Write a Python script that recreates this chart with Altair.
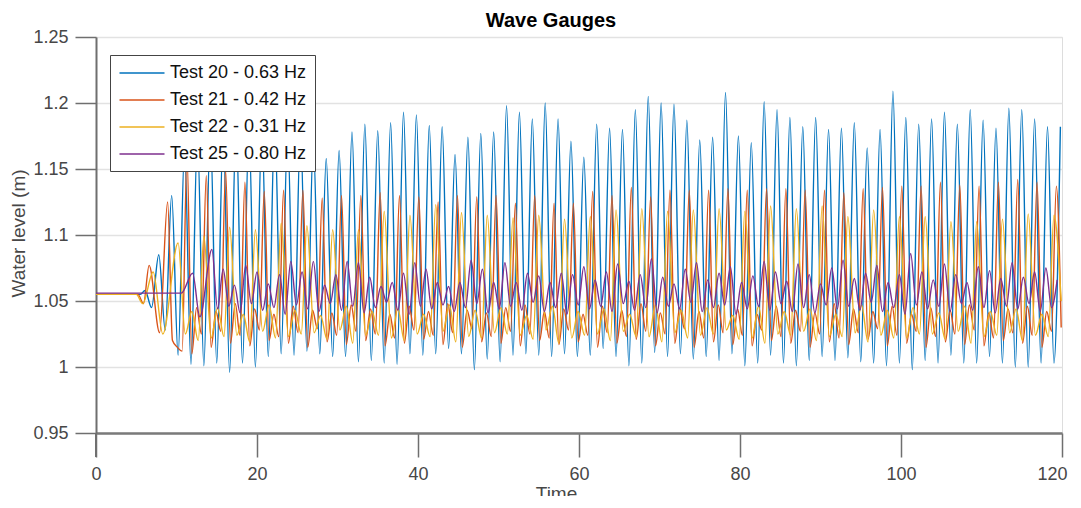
import altair as alt
import pandas as pd

FONT = "Liberation Sans, Arial, sans-serif"

series_names = ["Test 20 - 0.63 Hz", "Test 21 - 0.42 Hz", "Test 22 - 0.31 Hz", "Test 25 - 0.80 Hz"]
series_colors = ["#0072BD", "#D95319", "#EDB120", "#7E2F8E"]
x_ticks = [0, 20, 40, 60, 80, 100, 120]
y_ticks = [0.95, 1.0, 1.05, 1.1, 1.15, 1.2, 1.25]

# ---- Test 20 (blue) ----
blue_lead_t = [0, 5.5, 6.1, 6.9]
blue_lead_v = [1.055, 1.055, 1.058, 1.045]
blue_peak_t = [7.8, 9.4, 11.0, 12.6, 14.2, 15.8, 17.4, 19.0, 20.6, 22.2, 23.8, 25.4, 27.0, 28.6, 30.2,
               31.8, 33.4, 35.0, 36.6, 38.2, 39.8, 41.4, 43.0, 44.6, 46.2, 47.8, 49.4, 51.0, 52.6, 54.2,
               55.8, 57.4, 59.0, 60.6, 62.2, 63.8, 65.4, 67.0, 68.6, 70.2, 71.8, 73.4, 75.0, 76.6, 78.2,
               79.8, 81.4, 83.0, 84.6, 86.2, 87.8, 89.4, 91.0, 92.6, 94.2, 95.8, 97.4, 99.0, 100.6, 102.2,
               103.8, 105.4, 107.0, 108.6, 110.2, 111.8, 113.4, 115.0, 116.6, 118.2, 119.8]
blue_peak_v = [1.085, 1.130, 1.165, 1.175, 1.180, 1.178, 1.185, 1.180, 1.182, 1.185,
               1.178, 1.180, 1.171, 1.158, 1.164, 1.178, 1.184, 1.179, 1.185, 1.193,
               1.191, 1.183, 1.182, 1.161, 1.174, 1.177, 1.178, 1.198, 1.193, 1.188,
               1.200, 1.188, 1.171, 1.159, 1.184, 1.181, 1.180, 1.195, 1.205, 1.200,
               1.199, 1.187, 1.172, 1.174, 1.208, 1.175, 1.170, 1.201, 1.195, 1.189,
               1.182, 1.189, 1.180, 1.181, 1.185, 1.166, 1.180, 1.209, 1.189, 1.184,
               1.188, 1.193, 1.184, 1.195, 1.187, 1.181, 1.196, 1.195, 1.188, 1.182,
               1.182]
blue_trough_t = [8.6, 10.2, 11.8, 13.4, 15.0, 16.6, 18.2, 19.8, 21.4, 23.0, 24.6, 26.2, 27.8, 29.4, 31.0,
                 32.6, 34.2, 35.8, 37.4, 39.0, 40.6, 42.2, 43.8, 45.4, 47.0, 48.6, 50.2, 51.8, 53.4, 55.0,
                 56.6, 58.2, 59.8, 61.4, 63.0, 64.6, 66.2, 67.8, 69.4, 71.0, 72.6, 74.2, 75.8, 77.4, 79.0,
                 80.6, 82.2, 83.8, 85.4, 87.0, 88.6, 90.2, 91.8, 93.4, 95.0, 96.6, 98.2, 99.8, 101.4, 103.0,
                 104.6, 106.2, 107.8, 109.4, 111.0, 112.6, 114.2, 115.8, 117.4, 119.0]
blue_trough_v = [1.028, 1.009, 1.002, 1.001, 1.003, 0.996, 1.003, 1.000, 1.008, 1.010,
                 1.009, 1.012, 1.010, 1.008, 1.008, 1.004, 1.005, 1.003, 1.002, 1.010,
                 1.009, 1.010, 1.014, 1.010, 0.998, 1.006, 1.004, 1.009, 1.010, 1.009,
                 1.008, 1.010, 1.008, 1.009, 1.014, 1.008, 1.001, 1.003, 1.011, 1.008,
                 1.010, 1.006, 1.008, 1.005, 1.010, 1.001, 1.003, 1.009, 1.003, 1.001,
                 1.005, 1.008, 1.005, 1.007, 1.004, 1.003, 1.001, 1.003, 0.998, 1.005,
                 1.003, 1.009, 1.003, 1.003, 1.008, 1.003, 1.000, 1.000, 1.003, 1.003]

# ---- Test 21 (orange) ----
orange_lead_t = [0, 5.2, 5.9, 6.6, 7.9]
orange_lead_v = [1.055, 1.055, 1.048, 1.077, 1.026]
orange_peak_t = [8.9, 11.3, 13.7, 16.1, 18.5, 20.9, 23.3, 25.7, 28.1, 30.5, 32.9, 35.3, 37.7, 40.1, 42.5,
                 44.9, 47.3, 49.7, 52.1, 54.5, 56.9, 59.3, 61.7, 64.1, 66.5, 68.9, 71.3, 73.7, 76.1, 78.5,
                 80.9, 83.3, 85.7, 88.1, 90.5, 92.9, 95.3, 97.7, 100.1, 102.5, 104.9, 107.3, 109.7, 112.1,
                 114.5, 116.9, 119.3]
orange_peak_v = [1.125, 1.160, 1.145, 1.149, 1.140, 1.133, 1.134, 1.134, 1.128, 1.130,
                 1.130, 1.132, 1.130, 1.129, 1.125, 1.130, 1.129, 1.130, 1.124, 1.130,
                 1.124, 1.124, 1.133, 1.130, 1.136, 1.129, 1.134, 1.134, 1.134, 1.135,
                 1.134, 1.135, 1.135, 1.134, 1.134, 1.132, 1.135, 1.136, 1.137, 1.137,
                 1.140, 1.138, 1.137, 1.140, 1.142, 1.140, 1.137]
orange_tr1_t = [9.5, 11.9, 14.3, 16.7, 19.1, 21.5, 23.9, 26.3, 28.7, 31.1, 33.5, 35.9, 38.3, 40.7, 43.1,
                45.5, 47.9, 50.3, 52.7, 55.1, 57.5, 59.9, 62.3, 64.7, 67.1, 69.5, 71.9, 74.3, 76.7, 79.1,
                81.5, 83.9, 86.3, 88.7, 91.1, 93.5, 95.9, 98.3, 100.7, 103.1, 105.5, 107.9, 110.3, 112.7,
                115.1, 117.5, 119.9]
orange_tr1_v = [1.020, 1.010, 1.015, 1.018, 1.016, 1.020, 1.018, 1.015, 1.019, 1.017,
                1.020, 1.016, 1.018, 1.021, 1.017, 1.015, 1.019, 1.018, 1.016, 1.020,
                1.017, 1.019, 1.015, 1.018, 1.021, 1.016, 1.018, 1.015, 1.019, 1.017,
                1.016, 1.020, 1.018, 1.015, 1.019, 1.017, 1.021, 1.016, 1.018, 1.015,
                1.019, 1.017, 1.016, 1.020, 1.018, 1.015, 1.030]
orange_hump_t = [10.1, 12.5, 14.9, 17.3, 19.7, 22.1, 24.5, 26.9, 29.3, 31.7, 34.1, 36.5, 38.9, 41.3, 43.7,
                 46.1, 48.5, 50.9, 53.3, 55.7, 58.1, 60.5, 62.9, 65.3, 67.7, 70.1, 72.5, 74.9, 77.3, 79.7,
                 82.1, 84.5, 86.9, 89.3, 91.7, 94.1, 96.5, 98.9, 101.3, 103.7, 106.1, 108.5, 110.9, 113.3,
                 115.7, 118.1]
orange_hump_v = [1.015, 1.045, 1.042, 1.048, 1.044, 1.040, 1.046, 1.043, 1.041, 1.047,
                 1.044, 1.040, 1.046, 1.042, 1.048, 1.043, 1.041, 1.045, 1.047, 1.042,
                 1.044, 1.040, 1.046, 1.043, 1.048, 1.041, 1.045, 1.042, 1.047, 1.044,
                 1.040, 1.046, 1.043, 1.041, 1.048, 1.044, 1.042, 1.046, 1.040, 1.045,
                 1.043, 1.047, 1.041, 1.044, 1.046, 1.042]
orange_tr2_t = [10.7, 13.1, 15.5, 17.9, 20.3, 22.7, 25.1, 27.5, 29.9, 32.3, 34.7, 37.1, 39.5, 41.9, 44.3,
                46.7, 49.1, 51.5, 53.9, 56.3, 58.7, 61.1, 63.5, 65.9, 68.3, 70.7, 73.1, 75.5, 77.9, 80.3,
                82.7, 85.1, 87.5, 89.9, 92.3, 94.7, 97.1, 99.5, 101.9, 104.3, 106.7, 109.1, 111.5, 113.9,
                116.3, 118.7]
orange_tr2_v = [1.012, 1.025, 1.027, 1.024, 1.028, 1.023, 1.026, 1.029, 1.024, 1.027,
                1.025, 1.022, 1.028, 1.024, 1.026, 1.029, 1.023, 1.027, 1.025, 1.022,
                1.028, 1.024, 1.026, 1.023, 1.027, 1.025, 1.029, 1.022, 1.026, 1.024,
                1.028, 1.023, 1.027, 1.025, 1.022, 1.026, 1.029, 1.024, 1.027, 1.023,
                1.025, 1.028, 1.022, 1.026, 1.024, 1.027]

# ---- Test 22 (yellow) ----
yellow_lead_t = [0, 5.0, 5.8, 7.1, 8.3]
yellow_lead_v = [1.055, 1.055, 1.048, 1.072, 1.025]
yellow_peak_t = [10.2, 13.4, 16.6, 19.8, 23.0, 26.2, 29.4, 32.6, 35.8, 39.0, 42.2, 45.4, 48.6, 51.8, 55.0,
                 58.2, 61.4, 64.6, 67.8, 71.0, 74.2, 77.4, 80.6, 83.8, 87.0, 90.2, 93.4, 96.6, 99.8, 103.0,
                 106.2, 109.4, 112.6, 115.8, 119.0]
yellow_peak_v = [1.094, 1.099, 1.106, 1.104, 1.109, 1.107, 1.104, 1.104, 1.118, 1.115,
                 1.123, 1.117, 1.115, 1.113, 1.115, 1.112, 1.114, 1.119, 1.120, 1.118,
                 1.119, 1.120, 1.118, 1.122, 1.120, 1.122, 1.114, 1.119, 1.114, 1.114,
                 1.110, 1.110, 1.112, 1.116, 1.115]
yellow_tr1_t = [11.1, 14.3, 17.5, 20.7, 23.9, 27.1, 30.3, 33.5, 36.7, 39.9, 43.1, 46.3, 49.5, 52.7, 55.9,
                59.1, 62.3, 65.5, 68.7, 71.9, 75.1, 78.3, 81.5, 84.7, 87.9, 91.1, 94.3, 97.5, 100.7, 103.9,
                107.1, 110.3, 113.5, 116.7, 119.9]
yellow_tr1_v = [1.025, 1.022, 1.024, 1.027, 1.023, 1.026, 1.028, 1.024, 1.022, 1.025,
                1.027, 1.023, 1.026, 1.024, 1.028, 1.022, 1.025, 1.027, 1.023, 1.026,
                1.024, 1.028, 1.022, 1.025, 1.027, 1.023, 1.026, 1.024, 1.022, 1.025,
                1.027, 1.023, 1.026, 1.024, 1.050]
yellow_hump_t = [11.9, 15.1, 18.3, 21.5, 24.7, 27.9, 31.1, 34.3, 37.5, 40.7, 43.9, 47.1, 50.3, 53.5, 56.7,
                 59.9, 63.1, 66.3, 69.5, 72.7, 75.9, 79.1, 82.3, 85.5, 88.7, 91.9, 95.1, 98.3, 101.5, 104.7,
                 107.9, 111.1, 114.3, 117.5]
yellow_hump_v = [1.042, 1.045, 1.040, 1.047, 1.043, 1.039, 1.046, 1.042, 1.044, 1.040,
                 1.047, 1.043, 1.045, 1.039, 1.046, 1.042, 1.044, 1.040, 1.047, 1.043,
                 1.045, 1.039, 1.046, 1.042, 1.044, 1.040, 1.047, 1.043, 1.045, 1.041,
                 1.046, 1.042, 1.044, 1.040]
yellow_tr2_t = [12.7, 15.9, 19.1, 22.3, 25.5, 28.7, 31.9, 35.1, 38.3, 41.5, 44.7, 47.9, 51.1, 54.3, 57.5,
                60.7, 63.9, 67.1, 70.3, 73.5, 76.7, 79.9, 83.1, 86.3, 89.5, 92.7, 95.9, 99.1, 102.3, 105.5,
                108.7, 111.9, 115.1, 118.3]
yellow_tr2_v = [1.020, 1.023, 1.019, 1.022, 1.025, 1.021, 1.018, 1.024, 1.020, 1.023,
                1.019, 1.022, 1.025, 1.021, 1.018, 1.024, 1.020, 1.023, 1.019, 1.022,
                1.025, 1.021, 1.018, 1.024, 1.020, 1.023, 1.019, 1.022, 1.025, 1.021,
                1.018, 1.024, 1.020, 1.023]

# ---- Test 25 (purple) ----
purple_lead_t = [0, 10.6, 12.0, 12.9]
purple_lead_v = [1.056, 1.056, 1.071, 1.038]
purple_peak_t = [14.4, 15.8, 17.2, 18.6, 20.0, 21.4, 22.8, 24.2, 25.6, 27.0, 28.4, 29.8, 31.2, 32.6, 34.0,
                 35.4, 36.8, 38.2, 39.6, 41.0, 42.4, 43.8, 45.2, 46.6, 48.0, 49.4, 50.8, 52.2, 53.6, 55.0,
                 56.4, 57.8, 59.2, 60.6, 62.0, 63.4, 64.8, 66.2, 67.6, 69.0, 70.4, 71.8, 73.2, 74.6, 76.0,
                 77.4, 78.8, 80.2, 81.6, 83.0, 84.4, 85.8, 87.2, 88.6, 90.0, 91.4, 92.8, 94.2, 95.6, 97.0,
                 98.4, 99.8, 101.2, 102.6, 104.0, 105.4, 106.8, 108.2, 109.6, 111.0, 112.4, 113.8, 115.2,
                 116.6, 118.0, 119.4]
purple_peak_v = [1.089, 1.074, 1.062, 1.077, 1.072, 1.063, 1.070, 1.080, 1.072, 1.080,
                 1.062, 1.070, 1.080, 1.079, 1.068, 1.061, 1.064, 1.071, 1.079, 1.074,
                 1.064, 1.061, 1.064, 1.081, 1.074, 1.064, 1.079, 1.064, 1.071, 1.069,
                 1.064, 1.071, 1.070, 1.076, 1.066, 1.072, 1.078, 1.065, 1.070, 1.082,
                 1.068, 1.063, 1.074, 1.079, 1.066, 1.071, 1.076, 1.064, 1.069, 1.080,
                 1.072, 1.065, 1.078, 1.070, 1.063, 1.075, 1.081, 1.067, 1.071, 1.077,
                 1.064, 1.070, 1.086, 1.072, 1.066, 1.078, 1.070, 1.064, 1.076, 1.073,
                 1.067, 1.079, 1.068, 1.072, 1.075, 1.066]
purple_trough_t = [15.1, 16.5, 17.9, 19.3, 20.7, 22.1, 23.5, 24.9, 26.3, 27.7, 29.1, 30.5, 31.9, 33.3, 34.7,
                   36.1, 37.5, 38.9, 40.3, 41.7, 43.1, 44.5, 45.9, 47.3, 48.7, 50.1, 51.5, 52.9, 54.3, 55.7,
                   57.1, 58.5, 59.9, 61.3, 62.7, 64.1, 65.5, 66.9, 68.3, 69.7, 71.1, 72.5, 73.9, 75.3, 76.7,
                   78.1, 79.5, 80.9, 82.3, 83.7, 85.1, 86.5, 87.9, 89.3, 90.7, 92.1, 93.5, 94.9, 96.3, 97.7,
                   99.1, 100.5, 101.9, 103.3, 104.7, 106.1, 107.5, 108.9, 110.3, 111.7, 113.1, 114.5, 115.9,
                   117.3, 118.7]
purple_trough_v = [1.044, 1.046, 1.041, 1.048, 1.043, 1.045, 1.040, 1.047, 1.044, 1.042,
                   1.048, 1.043, 1.046, 1.041, 1.045, 1.049, 1.043, 1.040, 1.046, 1.044,
                   1.047, 1.042, 1.045, 1.048, 1.041, 1.044, 1.046, 1.043, 1.049, 1.042,
                   1.045, 1.040, 1.047, 1.044, 1.046, 1.042, 1.048, 1.043, 1.045, 1.041,
                   1.046, 1.044, 1.049, 1.042, 1.045, 1.047, 1.040, 1.044, 1.046, 1.043,
                   1.048, 1.042, 1.045, 1.041, 1.047, 1.044, 1.046, 1.043, 1.049, 1.042,
                   1.045, 1.040, 1.047, 1.044, 1.046, 1.042, 1.048, 1.043, 1.045, 1.041,
                   1.046, 1.044, 1.048, 1.042, 1.045]

rows = []


def add(name, ts, vs):
    for t, v in zip(ts, vs):
        rows.append({"series": name, "t": t, "v": v})


add(series_names[0], blue_lead_t, blue_lead_v)
add(series_names[0], blue_peak_t, blue_peak_v)
add(series_names[0], blue_trough_t, blue_trough_v)
add(series_names[1], orange_lead_t, orange_lead_v)
add(series_names[1], orange_peak_t, orange_peak_v)
add(series_names[1], orange_tr1_t, orange_tr1_v)
add(series_names[1], orange_hump_t, orange_hump_v)
add(series_names[1], orange_tr2_t, orange_tr2_v)
add(series_names[2], yellow_lead_t, yellow_lead_v)
add(series_names[2], yellow_peak_t, yellow_peak_v)
add(series_names[2], yellow_tr1_t, yellow_tr1_v)
add(series_names[2], yellow_hump_t, yellow_hump_v)
add(series_names[2], yellow_tr2_t, yellow_tr2_v)
add(series_names[3], purple_lead_t, purple_lead_v)
add(series_names[3], purple_peak_t, purple_peak_v)
add(series_names[3], purple_trough_t, purple_trough_v)

df = pd.DataFrame(rows).sort_values(["series", "t"]).reset_index(drop=True)

AXIS_GRAY = "#6f6f6f"
TEXT_GRAY = "#474747"

lines = alt.Chart(df).mark_line(strokeWidth=1.4, interpolate="monotone").encode(
    x=alt.X("t:Q",
            scale=alt.Scale(domain=[0, 120], nice=False),
            axis=alt.Axis(values=x_ticks, title="Time", grid=False,
                          domainColor="#7a7a7a", domainWidth=2.5,
                          tickColor=AXIS_GRAY, tickWidth=1.5, tickSize=24,
                          labelPadding=8, labelFontSize=18, labelFont=FONT, labelColor=TEXT_GRAY,
                          labelFlush=True, labelFlushOffset=5, labelOverlap=False,
                          titleFont=FONT, titleFontSize=19, titleFontWeight="normal", titleColor=TEXT_GRAY,
                          titleX=460, titleY=51, titleAlign="center", titleBaseline="top")),
    y=alt.Y("v:Q",
            scale=alt.Scale(domain=[0.95, 1.25], nice=False, zero=False),
            axis=alt.Axis(values=y_ticks, format="~g", title="Water level (m)", grid=True,
                          gridColor="#e2e2e2", gridWidth=1.5,
                          domainColor=AXIS_GRAY, domainWidth=2,
                          tickColor=AXIS_GRAY, tickWidth=1.5, tickSize=21,
                          labelPadding=7, labelFontSize=18, labelFont=FONT, labelColor=TEXT_GRAY,
                          labelOverlap=False,
                          titleFont=FONT, titleFontSize=19, titleFontWeight="normal", titleColor=TEXT_GRAY,
                          titleX=-78, titleY=196, titleAngle=270, titleAlign="center",
                          titleBaseline="middle")),
    color=alt.Color("series:N",
                    scale=alt.Scale(domain=series_names, range=series_colors),
                    legend=alt.Legend(title=None, orient="none", legendX=14, legendY=18,
                                      symbolType="M-2.5,0H2.5", symbolSize=324, symbolStrokeWidth=1.4,
                                      symbolOffset=14, labelOffset=18,
                                      labelFontSize=18, labelFont=FONT, labelColor="#111111",
                                      labelLimit=400, strokeColor="#444444", fillColor="white",
                                      padding=8, rowPadding=8, cornerRadius=0)),
)

axis_ext = alt.Chart(pd.DataFrame({"k": [0]})).mark_rule(color=AXIS_GRAY, strokeWidth=2).encode(
    x=alt.value(0), y=alt.value(396), y2=alt.value(420)
)

chart = alt.layer(lines, axis_ext).properties(
    width=966,
    height=396,
    title=alt.TitleParams("Wave Gauges", font=FONT, fontSize=20, fontWeight="bold", color="black",
                          anchor="middle", frame="group", dx=-28, dy=27, offset=8,
                          baseline="alphabetic"),
    padding={"left": 88, "top": 29, "right": 11, "bottom": 63},
    autosize=alt.AutoSizeParams(type="none"),
).configure_view(stroke=None).configure(background="white")

chart.save("out.html", embed_options={"renderer": "svg", "actions": False})
